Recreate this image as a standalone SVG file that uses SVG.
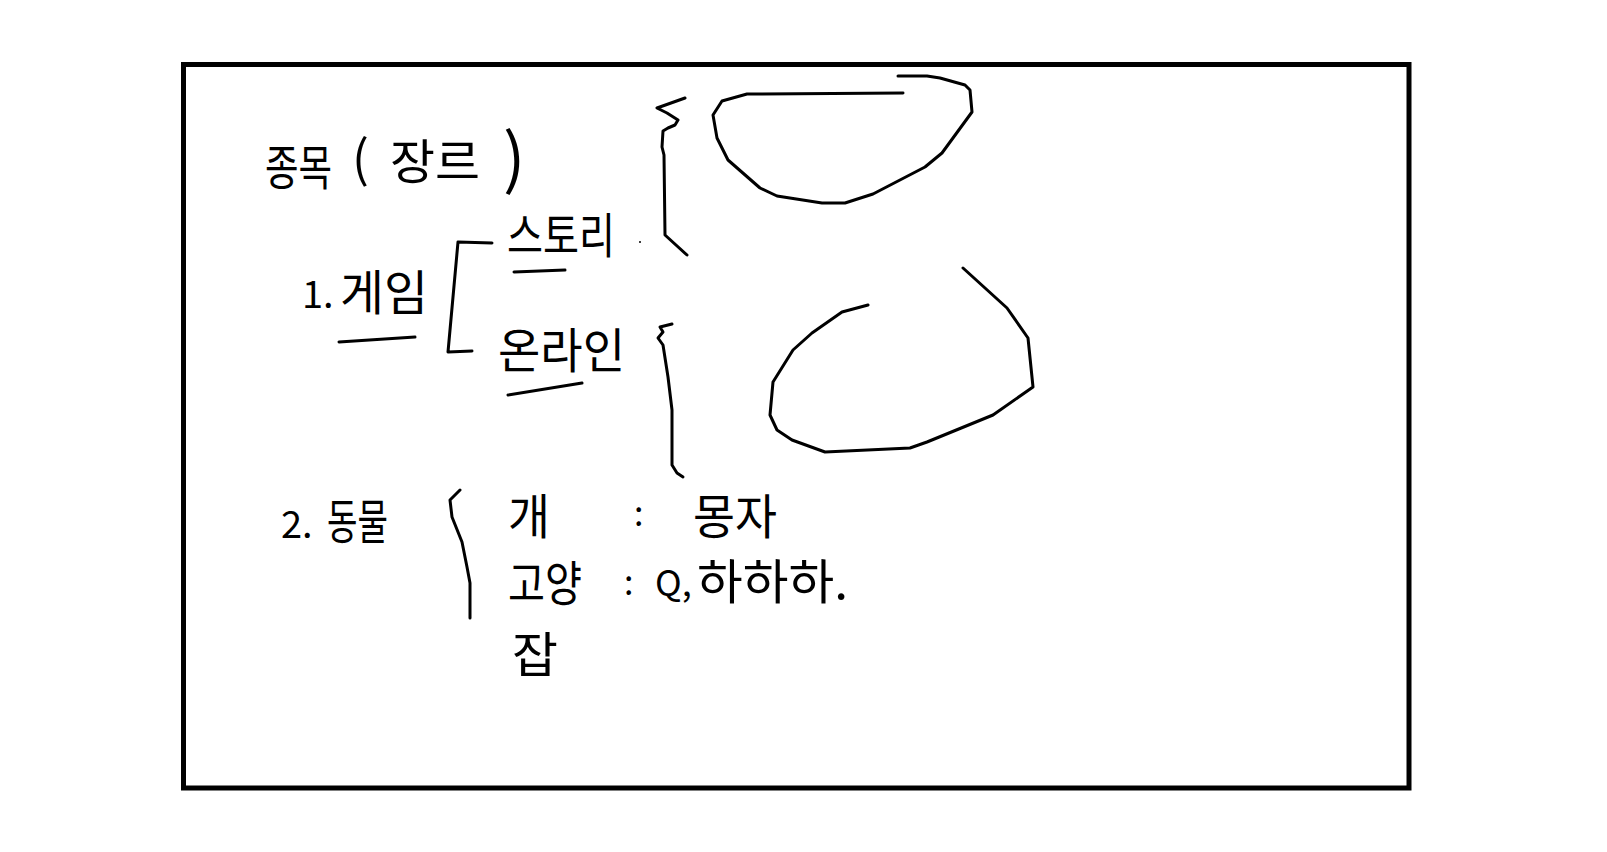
<svg xmlns="http://www.w3.org/2000/svg" width="1607" height="852" viewBox="0 0 1607 852">
<style>
  .frame{fill:none;stroke:#000;stroke-width:5}
  .ink{fill:none;stroke:#000;stroke-width:3;stroke-linecap:round;stroke-linejoin:round}
  .t{font-family:"Noto Sans CJK KR","Noto Sans",sans-serif;font-size:48px;fill:#000;dominant-baseline:central}
</style>
<rect width="1607" height="852" fill="#fff"/>
<rect class="frame" x="183.5" y="64.5" width="1225.5" height="723.5"/>

<g id="title">
  <text class="t" transform="translate(265,164) scale(0.76,1)" x="0" y="0">종목</text>
  <text class="t" x="352" y="155" style="font-size:50px">(</text>
  <text class="t" x="390" y="158" textLength="90" lengthAdjust="spacingAndGlyphs">장르</text>
  <text class="t" x="503" y="153" style="font-size:66px">)</text>
</g>

<g id="game">
  <text class="t" x="302" y="291" style="font-size:38px">1.</text>
  <text class="t" x="340" y="289" textLength="88" lengthAdjust="spacingAndGlyphs">게임</text>
  <path class="ink" d="M339,342 L415,337"/>
</g>

<g id="story">
  <text class="t" x="507" y="232" textLength="108" lengthAdjust="spacingAndGlyphs">스토리</text>
  <path class="ink" d="M514,272 L565,270"/>
</g>

<g id="online">
  <text class="t" x="498" y="347" textLength="127" lengthAdjust="spacingAndGlyphs">온라인</text>
  <path class="ink" d="M508,395 L582,383"/>
</g>

<g id="animal">
  <text class="t" x="281" y="521" style="font-size:38px">2.</text>
  <text class="t" x="327" y="518" textLength="61" lengthAdjust="spacingAndGlyphs">동물</text>
</g>

<g id="dog">
  <text class="t" x="508" y="513" textLength="42" lengthAdjust="spacingAndGlyphs">개</text>
  <text class="t" x="634" y="511" style="font-size:34px">:</text>
  <text class="t" x="693" y="513" textLength="84" lengthAdjust="spacingAndGlyphs">몽자</text>
</g>

<g id="cat">
  <text class="t" x="508" y="580" textLength="74" lengthAdjust="spacingAndGlyphs">고양</text>
  <text class="t" x="624" y="580" style="font-size:34px">:</text>
  <text class="t" x="655" y="580" style="font-size:36px">Q,</text>
  <text class="t" x="697" y="578" textLength="151" lengthAdjust="spacingAndGlyphs">하하하.</text>
</g>

<g id="misc">
  <text class="t" x="512" y="651" textLength="46" lengthAdjust="spacingAndGlyphs">잡</text>
</g>

<g id="connectors">
  <path class="ink" d="M492,243 L458,242 L448,352 L472,351"/>
  <path class="ink" d="M460,490 L450,500 L452,517 L462,542 L467,567 L470,583 L470,618"/>
  <path class="ink" d="M685,98 L657,108 L667,113 L678,120 L675,125 L668,128 L663,131 L662,147 L664,155 L665,235 L687,255"/>
  <path class="ink" d="M672,324 L660,327 L663,332 L658,338 L663,345 L668,377 L672,410 L672,465 L677,473 L683,477"/>
  <circle cx="640" cy="242" r="1" fill="#000"/>
</g>

<g id="loop1">
  <path class="ink" d="M898,76 L927,76 L940,78 L965,85 L970,90 L972,112 L942,153 L925,167 L873,194 L845,203 L822,203 L777,196 L760,188 L728,160 L717,138 L713,115 L722,101 L747,94 L903,93"/>
</g>

<g id="loop2">
  <path class="ink" d="M868,305 L842,312 L812,333 L793,350 L773,382 L770,415 L777,430 L792,440 L825,452 L910,448 L927,442 L993,415 L1033,387 L1028,338 L1007,308 L963,268"/>
</g>
</svg>
